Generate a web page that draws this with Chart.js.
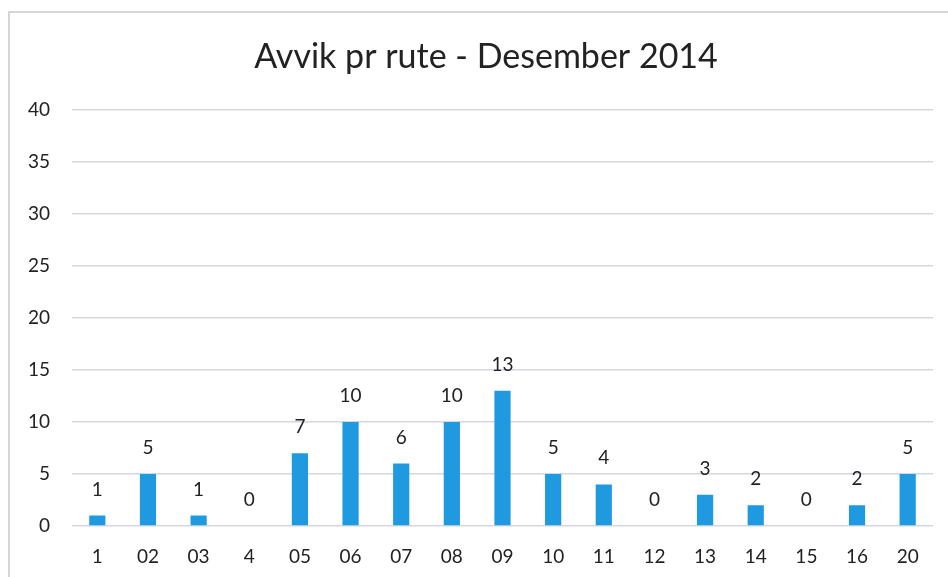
<!DOCTYPE html>
<html>
<head>
<meta charset="utf-8">
<script src="https://cdn.jsdelivr.net/npm/chart.js@4"></script>
<style>
  html, body { margin: 0; padding: 0; background: #fff; overflow: hidden; }
  #frame { position: absolute; left: 8px; top: 11px; width: 1000px; height: 700px;
           border-left: 2px solid #d4d6dc; border-top: 2px solid #d4d6dc; }
  #wrap { position: absolute; left: 0; top: 0; width: 948px; height: 577px; }
</style>
</head>
<body>
<div id="frame"></div>
<div id="wrap"><canvas id="c" width="948" height="577"></canvas></div>
<script>
const categories = ["1","02","03","4","05","06","07","08","09","10","11","12","13","14","15","16","20"];
const avvik = [1,5,1,0,7,10,6,10,13,5,4,0,3,2,0,2,5];
const yTicks = [0,5,10,15,20,25,30,35,40];
const titleText = "Avvik pr rute - Desember 2014";

const dataLabels = {
  id: 'dataLabels',
  afterDatasetsDraw(chart) {
    const ctx = chart.ctx;
    const meta = chart.getDatasetMeta(0);
    ctx.save();
    ctx.font = '19px Lato';
    ctx.fillStyle = '#222';
    ctx.textAlign = 'center';
    ctx.textBaseline = 'alphabetic';
    meta.data.forEach((bar, i) => {
      ctx.fillText(String(chart.data.datasets[0].data[i]), bar.x, bar.y - 20);
    });
    ctx.restore();
  }
};

new Chart(document.getElementById('c'), {
  type: 'bar',
  data: {
    labels: categories,
    datasets: [{
      data: avvik,
      yAxisID: 'y',
      backgroundColor: '#1f9ae0',
      categoryPercentage: 1,
      barPercentage: 0.32
    }]
  },
  options: {
    responsive: false,
    animation: false,
    layout: { padding: { left: 0, right: -24, top: 0, bottom: 0 } },
    plugins: {
      legend: { display: false },
      tooltip: { enabled: false },
      title: {
        display: true,
        text: titleText,
        color: '#222',
        font: { family: 'Lato', size: 34, weight: 'normal', lineHeight: 1.2 },
        padding: { top: 37, bottom: 32 }
      }
    },
    scales: {
      x: {
        grid: { display: false, drawTicks: false },
        border: { display: false },
        ticks: { color: '#222', font: { family: 'Lato', size: 19 }, padding: 19, maxRotation: 0, autoSkip: false },
        afterFit(s) { s.height = 51; }
      },
      y: {
        min: 0, max: 40,
        afterBuildTicks(s) { s.ticks = yTicks.map(v => ({ value: v })); },
        grid: { color: '#d5d6e4', lineWidth: 1.5, drawTicks: false },
        border: { display: false },
        ticks: { color: '#222', font: { family: 'Lato', size: 19 }, padding: 22 },
        afterFit(s) { s.width = 72; }
      },
      yRight: {
        position: 'right',
        min: 0, max: 1,
        grid: { display: false, drawTicks: false },
        border: { display: false },
        ticks: { display: false },
        afterFit(s) { s.width = 39; }
      }
    }
  },
  plugins: [dataLabels]
});
</script>
</body>
</html>
